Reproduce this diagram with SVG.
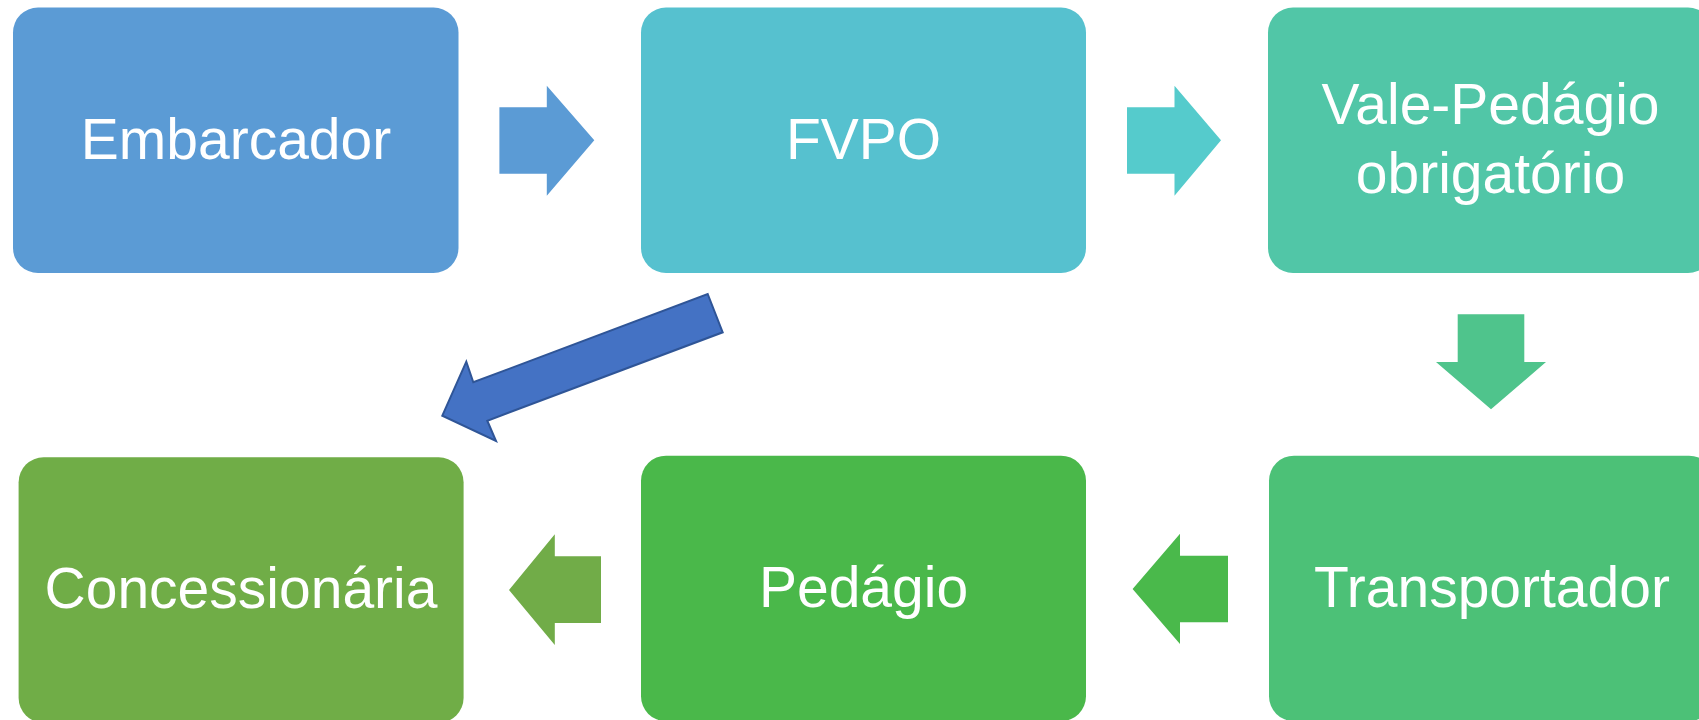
<svg xmlns="http://www.w3.org/2000/svg" width="1699" height="720" viewBox="0 0 1699 720">
<style>
.lbl{font-family:"Liberation Sans",Arial,sans-serif;font-size:57px;fill:#ffffff;text-anchor:middle}
</style>
<rect width="1699" height="720" fill="#ffffff"/>
<g id="connectors">
<polygon fill="#5B9BD5" points="499.4,107.3 546.8,107.3 546.8,85.7 594.3,140.3 546.8,195.7 546.8,173.7 499.4,173.7"/>
<polygon fill="#55CBCC" points="1127,107.3 1174.5,107.3 1174.5,85.7 1221,140.3 1174.5,195.7 1174.5,173.7 1127,173.7"/>
<polygon fill="#4FC48C" points="1457.7,314.3 1524.3,314.3 1524.3,362 1546,362 1491,409.3 1436,362 1457.7,362"/>
<polygon fill="#4AB94B" points="1228,555.7 1180,555.7 1180,533.7 1132.6,589 1180,644 1180,622.3 1228,622.3"/>
<polygon fill="#71AC48" points="601,556.3 554.8,556.3 554.8,534.3 509,590 554.8,645 554.8,623 601,623"/>
<polygon fill="#4472C4" stroke="#2F5597" stroke-width="2" stroke-linejoin="miter" points="707.7,294 722.7,332.3 487.3,420.7 496,441 442.3,415.7 466.3,361.7 473.3,382.3"/>
</g>
<g id="node-embarcador">
<rect x="13" y="7.5" width="445.5" height="265.5" rx="25" fill="#5B9BD5"/>
<text class="lbl" x="236" y="159">Embarcador</text>
</g>
<g id="node-fvpo">
<rect x="641" y="7.5" width="445" height="265.5" rx="25" fill="#56C1CF"/>
<text class="lbl" x="863.5" y="159">FVPO</text>
</g>
<g id="node-vale">
<rect x="1268" y="7.5" width="445" height="265.5" rx="25" fill="#51C6A7"/>
<text class="lbl" x="1490.5" y="124">Vale-Pedágio</text>
<text class="lbl" x="1490.5" y="193.3">obrigatório</text>
</g>
<g id="node-transportador">
<rect x="1269" y="455.7" width="445" height="265.5" rx="25" fill="#4CC177"/>
<text class="lbl" x="1492" y="606.7">Transportador</text>
</g>
<g id="node-pedagio">
<rect x="641" y="455.7" width="445" height="265.5" rx="25" fill="#4AB84A"/>
<text class="lbl" x="863.5" y="606.7">Pedágio</text>
</g>
<g id="node-concessionaria">
<rect x="18.6" y="457.3" width="445" height="265.5" rx="25" fill="#70AD47"/>
<text class="lbl" x="241" y="608.3">Concessionária</text>
</g>
</svg>
